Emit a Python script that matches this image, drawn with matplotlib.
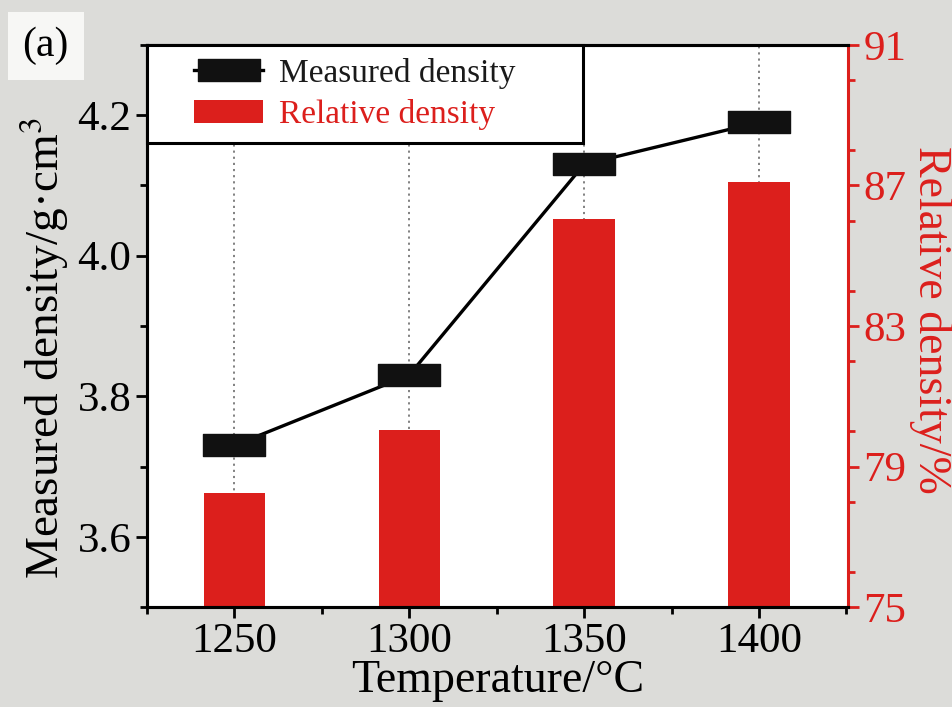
import numpy as np
import matplotlib
matplotlib.use("Agg")
import matplotlib.pyplot as plt
from matplotlib.path import Path
from matplotlib.lines import Line2D
from matplotlib.patches import Patch, Rectangle
from matplotlib.ticker import MultipleLocator

# sintering temperature, measured (Archimedes) and relative density
temps = [1250, 1300, 1350, 1400]
measured = [3.73, 3.83, 4.13, 4.19]
relative = [78.25, 80.05, 86.05, 87.1]

red = "#dc1f1c"
bg = "#dcdcd9"

plt.rcParams["font.family"] = ["Liberation Serif", "DejaVu Serif"]
plt.rcParams["mathtext.fontset"] = "stix"

fig = plt.figure(figsize=(9.53, 7.07), dpi=100, facecolor=bg)
ax = fig.add_axes([0.154, 0.1414, 0.736, 0.795])
ax2 = ax.twinx()

# bars on the right axis, line on the left axis drawn on top
ax.set_zorder(ax2.get_zorder() + 1)
ax.patch.set_visible(False)
ax2.patch.set_visible(True)
ax2.patch.set_facecolor("white")

for t in temps:
    ax2.axvline(t, color="#777777", ls=(0, (1.2, 2.2)), lw=1.3, zorder=0)
ax2.bar(temps, relative, width=17.5, color=red, zorder=2)

# wide rectangular marker
rect = Path([(-1, -0.36), (1, -0.36), (1, 0.36), (-1, 0.36), (-1, -0.36)],
            [Path.MOVETO, Path.LINETO, Path.LINETO, Path.LINETO, Path.CLOSEPOLY])
ax.plot(temps, measured, color="black", lw=2.4, marker=rect, markersize=45,
        markerfacecolor="#111111", markeredgecolor="#111111", zorder=3)

ax.set_xlim(1225, 1425.5)
ax.set_ylim(3.5, 4.3)
ax2.set_ylim(75, 91)

ax.set_xticks(temps)
ax.xaxis.set_minor_locator(MultipleLocator(25))
ax.set_yticks([3.6, 3.8, 4.0, 4.2])
ax.yaxis.set_minor_locator(MultipleLocator(0.1))
ax2.set_yticks([75, 79, 83, 87, 91])
ax2.yaxis.set_minor_locator(MultipleLocator(2))

ax.tick_params(axis="both", which="major", direction="out", length=8, width=2,
               labelsize=31, pad=3)
ax.tick_params(axis="both", which="minor", direction="out", length=5, width=2)
ax.tick_params(axis="x", top=False, which="both")
ax2.tick_params(axis="y", which="major", direction="out", length=8, width=2,
                labelsize=31, colors=red, pad=3)
ax2.tick_params(axis="y", which="minor", direction="out", length=5, width=2, colors=red)

for a in (ax, ax2):
    for s in a.spines.values():
        s.set_linewidth(2.2)
ax2.spines["right"].set_color(red)
ax.spines["right"].set_visible(False)

ax.set_xlabel("Temperature/\u00b0C", fontsize=33, labelpad=-1)
ax.set_ylabel("Measured density/g\u00b7cm$^{3}$", fontsize=34, va="center", ha="center")
ax.yaxis.set_label_coords(-0.147, 0.461)
ax2.set_ylabel("Relative density/%", fontsize=33, color=red, rotation=-90,
               va="center", ha="center")
ax2.yaxis.set_label_coords(1.118, 0.51)

# legend box in the upper-left corner
ax.add_patch(Rectangle((0, 0.826), 0.622, 0.174, transform=ax.transAxes,
                       facecolor="white", edgecolor="black", lw=2.2,
                       zorder=4, clip_on=False))
handles = [Line2D([], [], color="black", lw=2.4, marker=rect, markersize=45,
                  markerfacecolor="#111111", markeredgecolor="#111111"),
           Patch(facecolor=red, edgecolor="none")]
leg = ax.legend(handles, ["Measured density", "Relative density"],
                loc="upper left", bbox_to_anchor=(0.068, 0.977),
                bbox_transform=ax.transAxes, borderaxespad=0, borderpad=0,
                frameon=False, fontsize=24, handlelength=2.05,
                handleheight=0.68, handletextpad=0.5, labelspacing=0.3)
leg.set_zorder(5)
leg.get_texts()[0].set_color("#1a1a1a")
leg.get_texts()[1].set_color(red)

fig.text(0.048, 0.935, "(a)", fontsize=30, ha="center", va="center",
         bbox=dict(boxstyle="square,pad=0.35", facecolor="#f7f7f5", edgecolor="none"))

fig.savefig("out.png", dpi=100, facecolor=bg)
